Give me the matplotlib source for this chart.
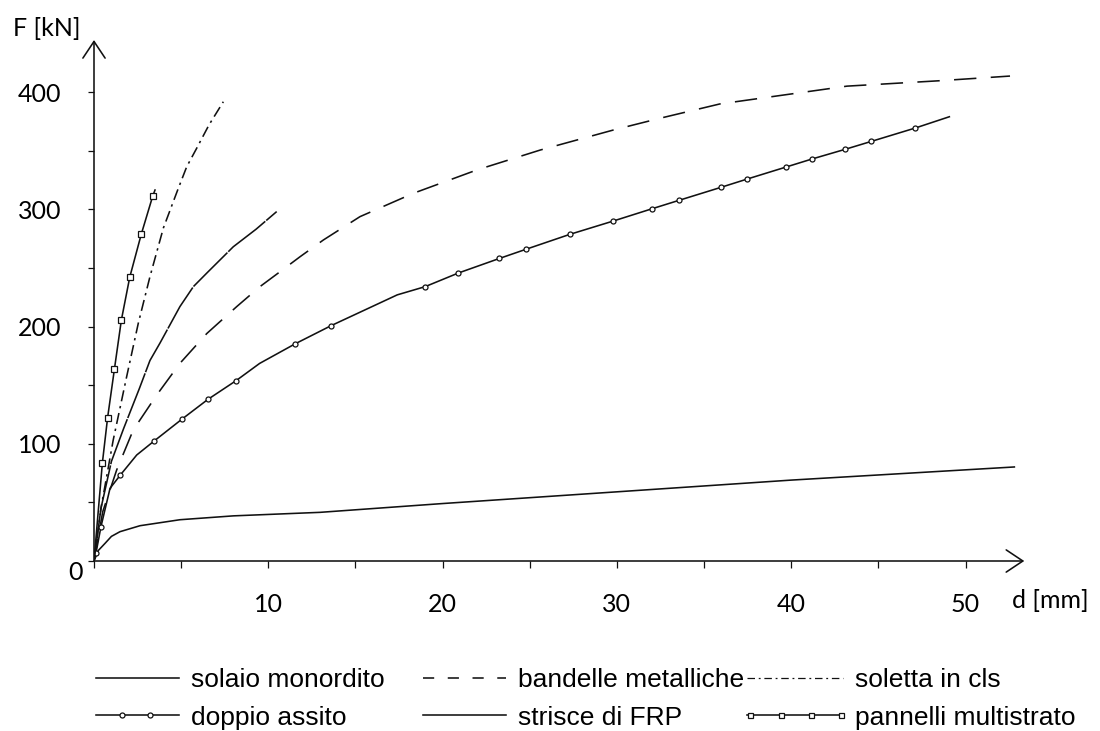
import numpy as np
import matplotlib
matplotlib.use("Agg")
import matplotlib.pyplot as plt
from matplotlib.lines import Line2D
from matplotlib.legend_handler import HandlerLine2D

# Kraft-Verformungs-Kurven (d [mm], F [kN])
solaio_d = [0, 0.25, 0.63, 1.0, 1.49, 2.64, 4.93, 8.0, 12.97, 20, 30, 40, 52.8]
solaio_F = [0, 9, 15, 21, 25, 30.1, 35.2, 38.5, 41.5, 49, 59, 69, 80.2]

bandelle_d = [0, 0.5, 1.3, 2.25, 3.6, 4.93, 6.47, 8.19, 9.52, 10.67, 11.82, 13.16,
              15.26, 18.32, 21.96, 25.6, 29.8, 32.47, 35.9, 43.2, 48.5, 52.55]
bandelle_F = [0, 42, 77.6, 111.7, 141.6, 168.6, 194, 217, 234, 246.7, 259.5, 273.8,
              293.7, 313.6, 333.5, 350.5, 367.6, 377.6, 389.8, 405, 409.6, 413.6]

soletta_d = [0, 0.4, 1.1, 1.87, 2.54, 3.21, 3.98, 4.8, 5.32, 5.89, 6.6, 7.42]
soletta_F = [0, 45, 103, 157, 202.7, 242.5, 284, 316.4, 336.3, 352, 372, 391.7]

doppio_d = [0, 0.11, 0.40, 0.92, 1.51, 2.45, 3.42, 5.03, 6.54, 8.15, 9.5, 11.55, 13.6,
            17.4, 19.0, 20.9, 23.25, 24.77, 27.3, 29.8, 32.03, 33.56, 35.97, 37.48,
            39.7, 41.2, 43.09, 44.6, 47.12, 49.07]
doppio_F = [0, 6.5, 29.3, 62, 73.3, 90.4, 102, 120.8, 137.9, 153.8, 168.5, 185.3, 200.7,
            227, 234, 245.6, 258, 265.8, 278.6, 290, 300.5, 307.6, 318.7, 325.8,
            336, 342.9, 351.1, 357.9, 369.3, 378.9]
doppio_marker_idx = [1, 2, 4, 6, 7, 8, 9, 11, 12] + list(range(14, 29))

frp_d = [0, 0.4, 1.0, 1.7, 2.6, 3.21, 3.79, 4.93, 5.7, 6.5, 7.99, 9.3, 10.48]
frp_F = [0, 45, 85, 113, 147, 171, 186, 217, 234, 246, 268, 283, 298]

pannelli_d = [0, 0.48, 0.78, 1.17, 1.57, 2.05, 2.71, 3.37, 3.5]
pannelli_F = [0, 83.6, 122.2, 163.5, 205.5, 242, 278.6, 311.3, 316.4]
pannelli_marker_idx = [1, 2, 3, 4, 5, 6, 7]

x_ticks = list(range(0, 55, 5))
x_labels = ["", "", "10", "", "20", "", "30", "", "40", "", "50"]
y_ticks = list(range(0, 450, 50))
y_labels = ["", "", "100", "", "200", "", "300", "", "400"]

#------------------------------------
tick_font = ["Lato", "DejaVu Sans"]
legend_font = ["Liberation Sans Narrow", "Liberation Sans", "DejaVu Sans"]
col = "#111111"
lw = 1.15


class HandlerMarks(HandlerLine2D):
    # Linie ueber die ganze Breite, Marker an festen Anteilen
    def __init__(self, fracs, **kw):
        super().__init__(**kw)
        self.fracs = list(fracs)

    def create_artists(self, legend, orig_handle, xdescent, ydescent, width,
                       height, fontsize, trans):
        x = -xdescent + width * np.array([0.0] + self.fracs + [1.0])
        y = np.full_like(x, (height - ydescent) / 2)
        line = Line2D(x, y)
        self.update_prop(line, orig_handle, legend)
        line.set_markevery(list(range(1, len(x) - 1)))
        line.set_transform(trans)
        return [line]


fig = plt.figure(figsize=(11, 7.31), dpi=100)
ax = fig.add_axes([94 / 1100, 170 / 731, 930.3 / 1100, 521 / 731])
ax.set_xlim(0, 53.37)
ax.set_ylim(0, 444.35)

ax.plot(solaio_d, solaio_F, color=col, lw=lw)
ax.plot(bandelle_d, bandelle_F, color=col, lw=lw, linestyle=(0, (14, 9)))
ax.plot(soletta_d, soletta_F, color=col, lw=lw, linestyle=(0, (7, 3, 1.5, 3)))
ax.plot(doppio_d, doppio_F, color=col, lw=lw, marker="o", markersize=3.6,
        markerfacecolor="white", markeredgewidth=0.9, markevery=doppio_marker_idx)
ax.plot(frp_d, frp_F, color=col, lw=lw, linestyle=(0, (30, 0.8)))
ax.plot(pannelli_d, pannelli_F, color=col, lw=lw, marker="s", markersize=3.8,
        markerfacecolor="white", markeredgewidth=0.9, markevery=pannelli_marker_idx)

# Achsen mit Pfeilen
for s in ax.spines.values():
    s.set_visible(False)
arrow = dict(arrowstyle="->,head_length=1.2,head_width=0.8", lw=lw, color=col,
             shrinkA=0, shrinkB=0)
ax.annotate("", xy=(53.37, 0), xytext=(0, 0), arrowprops=arrow, annotation_clip=False)
ax.annotate("", xy=(0, 444.35), xytext=(0, 0), arrowprops=arrow, annotation_clip=False)

ax.set_xticks(x_ticks, labels=x_labels)
ax.set_yticks(y_ticks, labels=y_labels)
ax.tick_params(axis="x", direction="out", length=5, width=0.9, color=col, pad=18,
               labelsize=18)
ax.tick_params(axis="y", direction="out", length=4.5, width=0.9, color=col, pad=19,
               labelsize=18)
for lab in ax.get_xticklabels() + ax.get_yticklabels():
    lab.set_family(tick_font)

ax.text(-1.09, -10.2, "0", fontsize=18, family=tick_font, ha="center", va="center",
        clip_on=False)
fig.text(47 / 1100, 1 - 28 / 731, "F [kN]", fontsize=18, family=tick_font,
         ha="center", va="center")
fig.text(1050 / 1100, 1 - 601 / 731, "d [mm]", fontsize=18, family=tick_font,
         ha="center", va="center")

# Legende in drei Spalten (eigene Handles, kuerzere Striche)
h_solaio = Line2D([], [], color=col, lw=lw, label="solaio monordito")
h_doppio = Line2D([], [], color=col, lw=lw, marker="o", markersize=3.6,
                  markerfacecolor="white", markeredgewidth=0.9, label="doppio assito")
h_bandelle = Line2D([], [], color=col, lw=lw, linestyle=(0, (7, 8.5)),
                    label="bandelle metalliche")
h_frp = Line2D([], [], color=col, lw=lw, label="strisce di FRP")
h_soletta = Line2D([], [], color=col, lw=0.9, linestyle=(0, (6, 3, 1.5, 3)),
                   label="soletta in cls")
h_pannelli = Line2D([], [], color=col, lw=lw, marker="s", markersize=3.6,
                    markerfacecolor="white", markeredgewidth=0.9,
                    label="pannelli multistrato")

leg_kw = dict(loc="upper left", frameon=False, borderpad=0, borderaxespad=0,
              handletextpad=0.45, labelspacing=0.52,
              prop=dict(family=legend_font, size=19))
top = 1 - 668 / 731
fig.legend(handles=[h_solaio, h_doppio], bbox_to_anchor=(96 / 1100, top),
           handlelength=3.15,
           handler_map={h_doppio: HandlerMarks([0.31, 0.65])}, **leg_kw)
fig.legend(handles=[h_bandelle, h_frp], bbox_to_anchor=(423 / 1100, top),
           handlelength=3.15, **leg_kw)
fig.legend(handles=[h_soletta, h_pannelli], bbox_to_anchor=(747 / 1100, top),
           handlelength=3.64,
           handler_map={h_pannelli: HandlerMarks([0.03, 0.35, 0.67, 0.98])}, **leg_kw)

fig.savefig("out.png", dpi=100)
